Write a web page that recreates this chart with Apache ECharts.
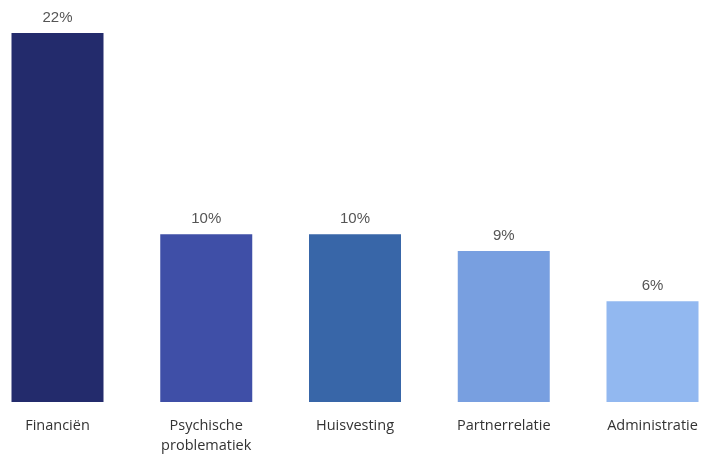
<!DOCTYPE html>
<html>
<head>
<meta charset="utf-8">
<script src="https://cdn.jsdelivr.net/npm/echarts@6/dist/echarts.min.js"></script>
<style>
  html, body { margin: 0; padding: 0; background: #fff; }
  #chart { width: 715px; height: 456px; }
</style>
</head>
<body>
<div id="chart"></div>
<script>
// Problem areas and their share (%)
const categories = ['Financiën', 'Psychische\nproblematiek', 'Huisvesting', 'Partnerrelatie', 'Administratie'];
const shares = [22, 10, 10, 9, 6];
const barColors = ['#232b6c', '#3f4fa7', '#3866a8', '#789fe0', '#92b8f0'];

const chart = echarts.init(document.getElementById('chart'), null, { renderer: 'canvas' });

chart.setOption({
  animation: false,
  backgroundColor: '#ffffff',
  grid: { left: 57.5, right: 62.5, top: 33, bottom: 52, containLabel: false },
  xAxis: {
    type: 'category',
    data: categories,
    boundaryGap: false,
    axisLine: { show: false },
    axisTick: { show: false },
    axisLabel: {
      interval: 0,
      margin: 14,
      color: '#333333',
      fontFamily: 'Open Sans',
      fontSize: 14.5,
      lineHeight: 20
    }
  },
  yAxis: {
    type: 'value',
    min: 0,
    max: 22,
    show: false,
    splitLine: { show: false }
  },
  series: [{
    type: 'bar',
    barWidth: 92,
    data: shares.map((v, i) => ({ value: v, itemStyle: { color: barColors[i] } })),
    label: {
      show: true,
      position: 'top',
      distance: 8,
      formatter: p => p.value + '%',
      color: '#555555',
      fontFamily: 'Liberation Sans',
      fontSize: 15
    }
  }]
});
</script>
</body>
</html>
